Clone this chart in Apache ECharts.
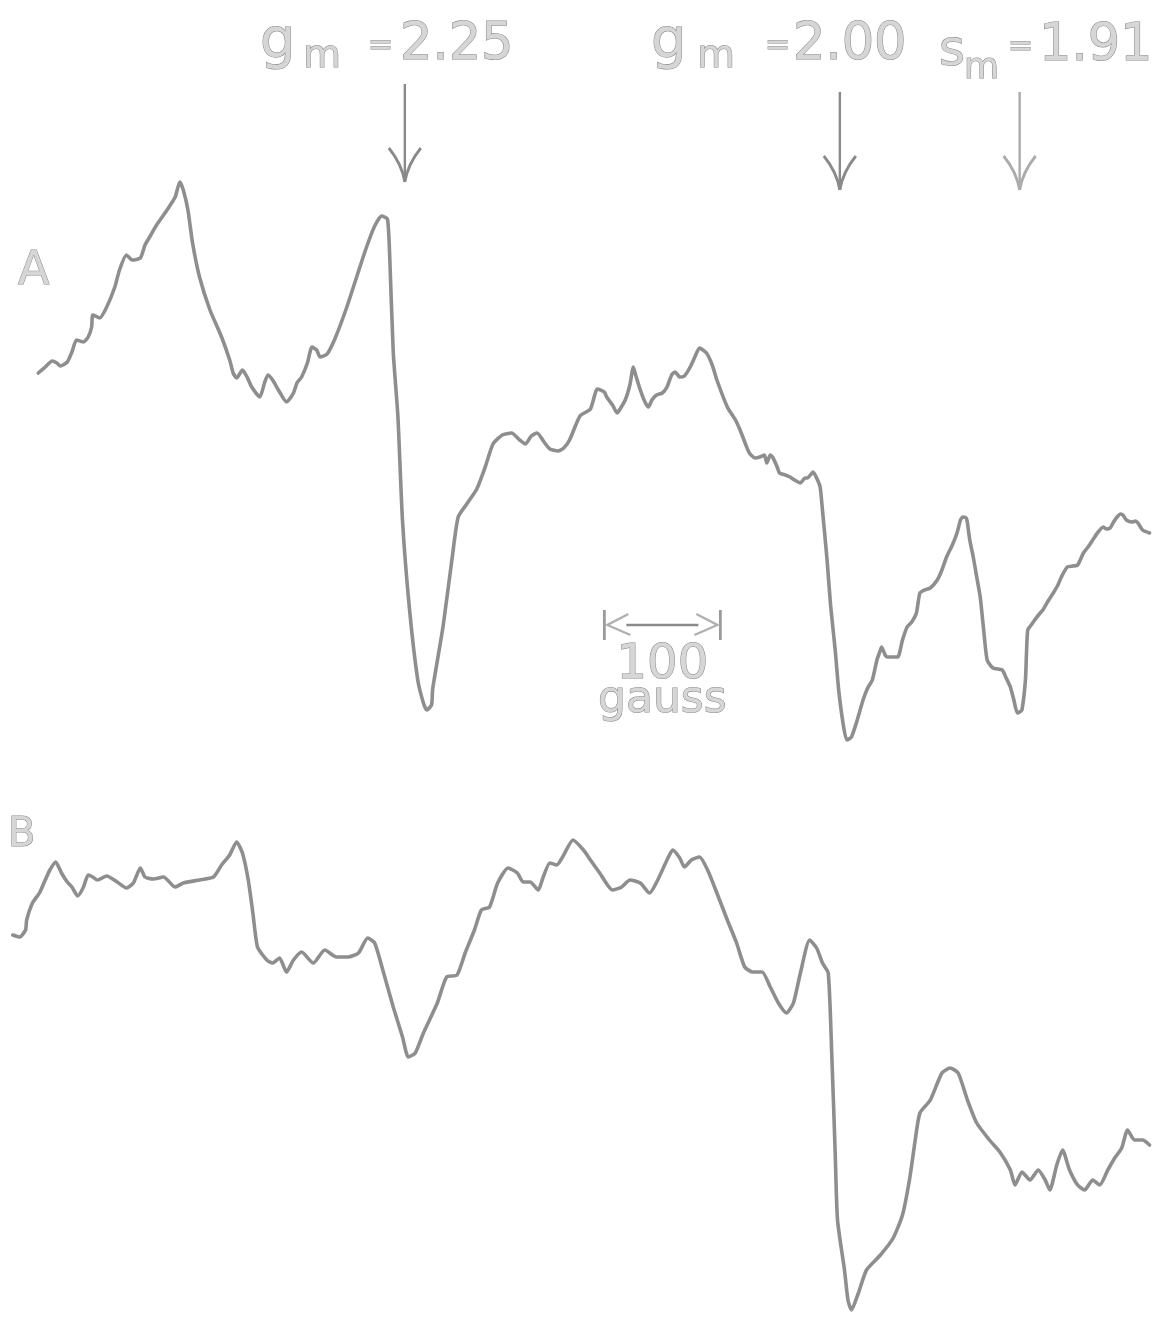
<!DOCTYPE html>
<html>
<head>
<meta charset="utf-8">
<script src="https://cdn.jsdelivr.net/npm/echarts@6.0.0/dist/echarts.min.js"></script>
<style>
  html, body { margin: 0; padding: 0; background: #ffffff; }
  #chart { width: 1160px; height: 1320px; }
</style>
</head>
<body>
<div id="chart"></div>
<script>
// EPR derivative spectra A and B, magnetic field in gauss, signal in arbitrary units.

const fieldA = [2633, 2639, 2645, 2649, 2652, 2658, 2662, 2666, 2672, 2676, 2679, 2680, 2686, 2692, 2699, 2703, 2709, 2714, 2721, 2725,
  2729, 2735, 2744, 2751, 2755, 2758, 2762, 2766, 2772, 2781, 2791, 2798, 2801, 2804, 2809, 2813, 2817, 2824, 2828, 2831,
  2835, 2840, 2847, 2853, 2856, 2860, 2865, 2869, 2873, 2876, 2882, 2889, 2899, 2908, 2916, 2923, 2929, 2934, 2936, 2939,
  2943, 2947, 2953, 2960, 2965, 2968, 2972, 2973, 2982, 2990, 2995, 3003, 3011, 3018, 3025, 3033, 3041, 3048, 3053, 3058,
  3063, 3069, 3074, 3081, 3086, 3091, 3100, 3109, 3115, 3121, 3123, 3128, 3132, 3134, 3139, 3143, 3146, 3148, 3152, 3156,
  3159, 3162, 3166, 3171, 3175, 3179, 3182, 3186, 3190, 3195, 3199, 3203, 3209, 3214, 3218, 3227, 3234, 3238, 3242, 3246,
  3251, 3255, 3259, 3261, 3264, 3266, 3270, 3272, 3277, 3281, 3285, 3290, 3294, 3296, 3301, 3304, 3307, 3309, 3313, 3316,
  3320, 3323, 3327, 3330, 3334, 3339, 3344, 3348, 3352, 3356, 3359, 3360, 3363, 3365, 3370, 3374, 3378, 3382, 3386,
  3390, 3393, 3397, 3402, 3408, 3412, 3416, 3421, 3425, 3428, 3430, 3433, 3434, 3436, 3439, 3442, 3445, 3448, 3451, 3456,
  3464, 3467, 3471, 3474, 3477, 3479, 3481, 3484, 3485, 3486, 3489, 3492, 3496, 3499, 3503, 3508, 3512, 3515, 3520, 3525,
  3529, 3534, 3538, 3542, 3546, 3551, 3554, 3557, 3560, 3563, 3566, 3568, 3571, 3576, 3579, 3581, 3585, 3591];

const signalA = [172, 178, 184, 182, 179, 183, 193, 205, 203, 208, 218, 230, 227, 238, 258, 275, 290, 285, 287, 300,
  308, 320, 335, 348, 363, 355, 335, 302, 268, 235, 208, 185, 172, 167, 175, 168, 158, 148, 162, 170,
  165, 155, 143, 152, 162, 168, 182, 198, 195, 188, 191, 207, 238, 270, 298, 319, 329, 326, 287, 193,
  129, 24, -64, -134, -158, -165, -160, -144, -81, -11, 28, 42, 56, 77, 101, 110, 112, 105, 101, 109,
  112, 103, 96, 94, 97, 105, 129, 136, 156, 153, 148, 140, 132, 135, 145, 160, 178, 170, 155, 143,
  138, 145, 150, 152, 158, 170, 173, 168, 169, 178, 188, 197, 192, 180, 165, 138, 125, 115, 103, 92,
  87, 88, 90, 82, 90, 88, 78, 72, 70, 68, 65, 62, 67, 67, 73, 67, 58, 35, -15, -60,
  -105, -145, -180, -195, -192, -175, -155, -143, -135, -115, -105, -102, -110, -112, -112, -112, -95, -82, -77,
  -68, -48, -45, -43, -35, -25, -12, 0, 12, 25, 28, 27, 22, 5, -12, -32, -52, -85, -115, -123,
  -125, -132, -142, -155, -168, -167, -165, -135, -105, -85, -80, -75, -69, -65, -57, -48, -40, -32, -22, -21,
  -20, -8, -2, 5, 12, 18, 16, 17, 23, 28, 31, 30, 25, 23, 24, 22, 15, 12];

const fieldB = [2611, 2617, 2622, 2623, 2628, 2634, 2639, 2643, 2648, 2653, 2658, 2662, 2667, 2672, 2676, 2680, 2684, 2692, 2701, 2709,
  2715, 2721, 2725, 2732, 2741, 2751, 2758, 2772, 2784, 2791, 2798, 2804, 2809, 2814, 2818, 2822, 2830, 2835, 2841, 2847,
  2853, 2860, 2870, 2880, 2890, 2900, 2909, 2917, 2923, 2930, 2939, 2947, 2952, 2958, 2965, 2977, 2985, 2994, 3001, 3009,
  3015, 3022, 3029, 3038, 3046, 3051, 3057, 3064, 3068, 3074, 3080, 3085, 3094, 3103, 3109, 3117, 3128, 3136, 3143, 3152,
  3160, 3167, 3175, 3180, 3186, 3190, 3196, 3203, 3210, 3218, 3227, 3235, 3242, 3249, 3257, 3264, 3271, 3278, 3284, 3290,
  3298, 3304, 3309, 3314, 3317, 3320, 3322, 3328, 3331, 3334, 3340, 3347, 3359, 3370, 3378, 3384, 3389, 3393, 3402, 3412,
  3419, 3426, 3434, 3442, 3453, 3462, 3471, 3475, 3481, 3488, 3495, 3501, 3505, 3511, 3516, 3522, 3529, 3535, 3542, 3548,
  3555, 3561, 3567, 3572, 3578, 3585, 3591];

const signalB = [140, 138, 145, 155, 172, 182, 195, 205, 213, 202, 193, 188, 179, 188, 200, 198, 195, 199, 193, 187,
  192, 207, 198, 196, 198, 188, 192, 195, 198, 210, 220, 233, 222, 195, 162, 128, 115, 112, 117, 103,
  115, 123, 112, 125, 118, 118, 122, 137, 132, 105, 68, 38, 18, 22, 42, 72, 98, 100, 122, 145,
  165, 168, 192, 207, 202, 193, 193, 185, 197, 212, 210, 218, 235, 225, 215, 202, 185, 188, 195, 192,
  182, 195, 215, 225, 217, 208, 215, 218, 205, 182, 155, 132, 108, 103, 103, 88, 72, 62, 72, 102,
  135, 127, 112, 102, 22, -78, -145, -195, -225, -235, -218, -195, -180, -163, -140, -105, -65, -38, -25, 2,
  7, 2, -25, -48, -65, -77, -95, -110, -97, -105, -95, -105, -115, -90, -75, -95, -110, -115, -105, -110,
  -95, -83, -73, -55, -65, -65, -70];

// resonance positions marked above the spectra (field in gauss)
const markerFields = [2949, 3324, 3479];
const markerSymbols = ['g', 'g', 's'];
const markerValues = ['2.25', '2.00', '1.91'];

// field scale bar
const scaleStart = 3121;
const scaleLength = 100;
const scaleUnit = 'gauss';

const traceLabels = ['A', 'B'];

const pairs = (xs, ys) => xs.map((x, i) => [x, ys[i]]);

const INK = '#8e8e8e';
const LETTER_FILL = '#d6d6d6';
const LETTER_EDGE = '#8a8a8a';
const FONT = '"DejaVu Sans", "Liberation Sans", sans-serif';

const chart = echarts.init(document.getElementById('chart'), null, { renderer: 'canvas' });

const hiddenX = (gridIndex) => ({
  type: 'value', gridIndex, min: 2600, max: 3600,
  show: false, splitLine: { show: false }
});
const hiddenY = (gridIndex, min, max) => ({
  type: 'value', gridIndex, min, max,
  show: false, splitLine: { show: false }
});

const traceStyle = {
  type: 'line', showSymbol: false, smooth: 0.2, silent: true,
  lineStyle: { color: INK, width: 3.6, cap: 'round', join: 'round' }
};

chart.setOption({
  animation: false,
  backgroundColor: '#ffffff',
  grid: [
    { left: 0, right: 0, top: 0, height: 780 },
    { left: 0, right: 0, top: 780, height: 540 }
  ],
  xAxis: [hiddenX(0), hiddenX(1)],
  yAxis: [hiddenY(0, -235, 545), hiddenY(1, -245, 295)],
  series: [
    Object.assign({ name: traceLabels[0], xAxisIndex: 0, yAxisIndex: 0, data: pairs(fieldA, signalA) }, traceStyle),
    Object.assign({ name: traceLabels[1], xAxisIndex: 1, yAxisIndex: 1, data: pairs(fieldB, signalB) }, traceStyle)
  ]
});

const toX = (field) => chart.convertToPixel({ xAxisIndex: 0 }, field);

function letter(text, x, y, size, extra) {
  return {
    type: 'text', x, y, silent: true,
    style: Object.assign({
      text, fontSize: size, fontFamily: FONT,
      fill: LETTER_FILL, stroke: LETTER_EDGE, lineWidth: 1.1,
      align: 'left', verticalAlign: 'middle'
    }, extra || {})
  };
}

function downArrow(x, top, tip, color) {
  return [
    { type: 'line', silent: true, shape: { x1: x, y1: top, x2: x, y2: tip - 2 },
      style: { stroke: color, lineWidth: 2.4 } },
    { type: 'bezierCurve', silent: true,
      shape: { x1: x, y1: tip, cpx1: x - 3, cpy1: tip - 18, x2: x - 16, y2: tip - 34 },
      style: { stroke: color, lineWidth: 2.8, fill: null } },
    { type: 'bezierCurve', silent: true,
      shape: { x1: x, y1: tip, cpx1: x + 3, cpy1: tip - 18, x2: x + 16, y2: tip - 34 },
      style: { stroke: color, lineWidth: 2.8, fill: null } }
  ];
}

const gfx = [];

// resonance labels: symbol, subscript m, "=", value
const labelLayout = [
  { sym: 260, sub: 303, eq: 368, val: 400, dy: 2, arrowTop: 84, arrowTip: 182, color: '#8a8a8a' },
  { sym: 651, sub: 697, eq: 765, val: 793, dy: 2, arrowTop: 92, arrowTip: 190, color: '#8a8a8a' },
  { sym: 939, sub: 964, eq: 1008, val: 1039, dy: 3, arrowTop: 92, arrowTip: 190, color: '#ababab' }
];
markerFields.forEach((f, i) => {
  const L = labelLayout[i];
  const isS = markerSymbols[i] === 's';
  gfx.push(letter(markerSymbols[i], L.sym, (isS ? 49 : 40) + L.dy, isS ? 50 : 56));
  gfx.push(letter('m', L.sub, (isS ? 66 : 55) + L.dy, isS ? 36 : 39));
  gfx.push(letter('=', L.eq, 44 + L.dy, 30));
  gfx.push(letter(markerValues[i], L.val, 44 + L.dy, 51));
  downArrow(toX(f), L.arrowTop, L.arrowTip, L.color).forEach(e => gfx.push(e));
});

// trace letters
gfx.push(letter(traceLabels[0], 18, 272, 46, { lineWidth: 1 }));
gfx.push(letter(traceLabels[1], 8, 836, 40, { lineWidth: 1 }));

// 100 gauss scale bar
const sx1 = toX(scaleStart);
const sx2 = toX(scaleStart + scaleLength);
const sy = 625;
const barColor = '#9a9a9a';
gfx.push({ type: 'line', silent: true, shape: { x1: sx1, y1: sy - 15, x2: sx1, y2: sy + 15 }, style: { stroke: barColor, lineWidth: 2.8 } });
gfx.push({ type: 'line', silent: true, shape: { x1: sx2, y1: sy - 15, x2: sx2, y2: sy + 15 }, style: { stroke: barColor, lineWidth: 2.8 } });
gfx.push({ type: 'line', silent: true, shape: { x1: sx1 + 22, y1: sy, x2: sx2 - 22, y2: sy }, style: { stroke: '#8a8a8a', lineWidth: 2.4 } });
gfx.push({ type: 'polyline', silent: true, shape: { points: [[sx1 + 24, sy - 11], [sx1 + 3, sy], [sx1 + 26, sy + 10]] }, style: { stroke: '#b0b0b0', lineWidth: 2.4, fill: null } });
gfx.push({ type: 'polyline', silent: true, shape: { points: [[sx2 - 24, sy - 11], [sx2 - 3, sy], [sx2 - 26, sy + 10]] }, style: { stroke: '#b0b0b0', lineWidth: 2.4, fill: null } });
const sMid = (sx1 + sx2) / 2;
gfx.push(letter(String(scaleLength), sMid, 666, 48, { align: 'center' }));
gfx.push(letter(scaleUnit, sMid, 701, 44, { align: 'center' }));

chart.setOption({ graphic: { elements: gfx } });
</script>
</body>
</html>
